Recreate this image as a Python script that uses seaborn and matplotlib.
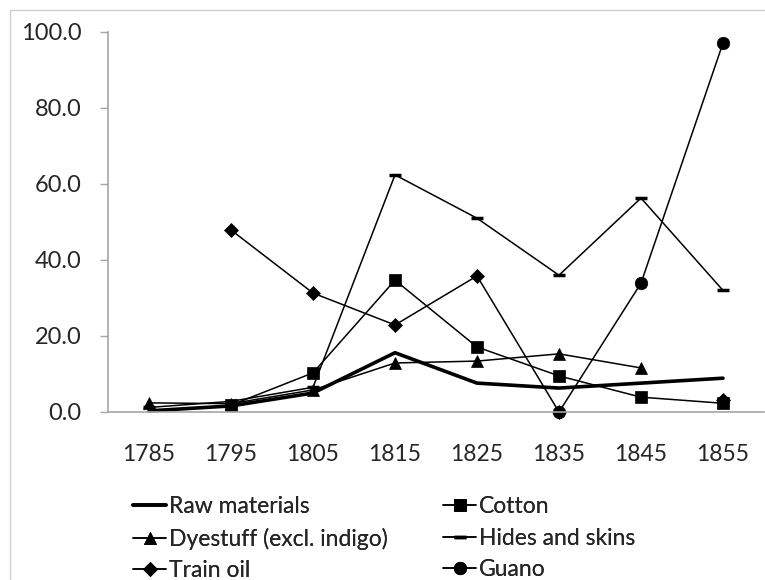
import numpy as np
import pandas as pd
import matplotlib
matplotlib.use("Agg")
import matplotlib.pyplot as plt
from matplotlib.lines import Line2D
from matplotlib.patches import Rectangle
import seaborn as sns

# values (nan = no point)
years = ["1785", "1795", "1805", "1815", "1825", "1835", "1845", "1855"]
raw_materials = [0.3, 1.6, 5.0, 15.6, 7.6, 6.3, 7.6, 8.9]
cotton = [np.nan, 1.8, 10.3, 34.7, 17.1, 9.5, 3.9, 2.3]
dyestuff = [2.4, 2.2, 5.8, 12.9, 13.4, 15.3, 11.6, np.nan]
hides = [1.2, 2.8, 6.5, 62.4, 51.0, 36.0, 56.3, 32.0]
train_oil = [np.nan, 47.9, 31.3, 22.9, 35.8, 0.0, np.nan, 3.2]
guano = [np.nan, np.nan, np.nan, np.nan, np.nan, 0.0, 33.9, 97.1]

series = [
    ("Raw materials", raw_materials, None, 2.6),
    ("Cotton", cotton, "s", 1.1),
    ("Dyestuff (excl. indigo)", dyestuff, "^", 1.1),
    ("Hides and skins", hides, "_", 1.1),
    ("Train oil", train_oil, "D", 1.1),
    ("Guano", guano, "o", 1.1),
]
msize = {"s": 8.5, "^": 9, "_": 9, "D": 7, "o": 9}

sns.set_style("white")
plt.rcParams['font.family'] = ['Lato', 'DejaVu Sans']

fig = plt.figure(figsize=(7.65, 5.8), dpi=100)
ax = fig.add_axes([108 / 765, 1 - 412 / 580, 656 / 765, 380 / 580])

pos = np.arange(len(years))
for name, vals, mk, lw in series:
    df = pd.DataFrame({"x": pos, "y": vals})
    # split into segments so gaps stay gaps
    df["seg"] = df["y"].isna().cumsum()
    df = df.dropna()
    kw = {}
    if mk is not None:
        kw = dict(marker=mk, markersize=msize[mk], markeredgecolor="black",
                  markerfacecolor="black",
                  markeredgewidth=2.5 if mk == "_" else 0.5)
    sns.lineplot(data=df, x="x", y="y", units="seg", estimator=None,
                 color="black", linewidth=lw, ax=ax, legend=False, **kw)
for ln in ax.get_lines():
    ln.set_clip_on(False)

ax.set_xlim(-0.5, len(years) - 0.5)
ax.set_ylim(0, 100)
ax.set_xticks(pos)
ax.set_xticklabels(years, fontsize=16.5)
ax.set_yticks([0, 20, 40, 60, 80, 100])
ax.set_yticklabels([f"{v:.1f}" for v in [0, 20, 40, 60, 80, 100]], fontsize=17)
ax.set_xlabel("")
ax.set_ylabel("")
ax.tick_params(axis="x", length=0, pad=23)
ax.tick_params(axis="y", length=6, width=1, color="#a6a6a6", direction="out", pad=13, left=True)
for s in ["top", "right"]:
    ax.spines[s].set_visible(False)
for s in ["left", "bottom"]:
    ax.spines[s].set_color("#a6a6a6")
    ax.spines[s].set_linewidth(1.2)

# legend: two separate columns so each can be placed where the reference has it
handles = {}
for name, vals, mk, lw in series:
    if mk is None:
        handles[name] = Line2D([], [], color="black", lw=lw)
    else:
        handles[name] = Line2D([], [], color="black", lw=lw, marker=mk, markersize=msize[mk],
                               markeredgewidth=2.5 if mk == "_" else 0.5)
col1 = ["Raw materials", "Dyestuff (excl. indigo)", "Train oil"]
col2 = ["Cotton", "Hides and skins", "Guano"]
for names, x0 in [(col1, 133), (col2, 443)]:
    leg = fig.legend([handles[n] for n in names], names, loc="upper left",
                     bbox_to_anchor=(x0 / 765, 1 - 496 / 580), frameon=False, fontsize=16.5,
                     handlelength=1.45, handletextpad=0.1, labelspacing=0.46,
                     borderpad=0, borderaxespad=0)
    fig.add_artist(leg)

fig.patches.append(Rectangle((10 / 765, -0.1), 1.2, 1.1 - 10 / 580, transform=fig.transFigure,
                             fill=False, edgecolor="#d0d0d0", lw=1))

fig.savefig("out.png", dpi=100)
